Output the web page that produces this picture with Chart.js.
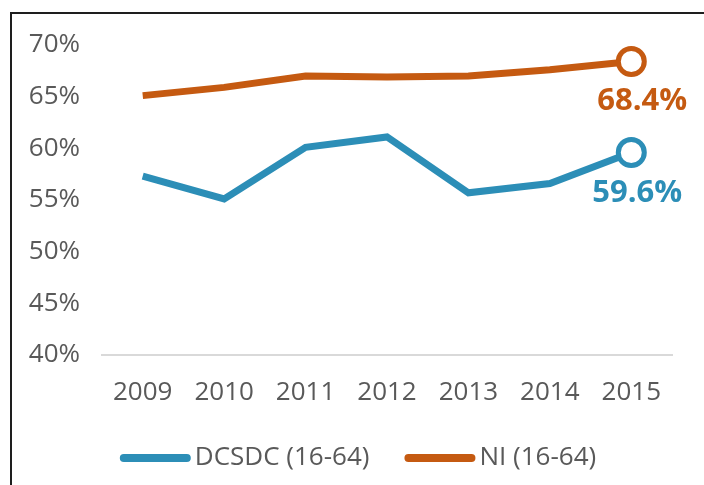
<!DOCTYPE html>
<html>
<head>
<meta charset="utf-8">
<script src="https://cdn.jsdelivr.net/npm/chart.js@4.4.0/dist/chart.umd.min.js"></script>
<style>
  html, body { margin: 0; padding: 0; background: #fff; }
  #wrap { position: relative; width: 704px; height: 485px; overflow: hidden; }
  #frame {
    position: absolute; left: 10px; top: 12px; width: 720px; height: 500px;
    border-top: 2px solid #1e1e1e; border-left: 2px solid #1e1e1e;
    pointer-events: none;
  }
</style>
</head>
<body>
<div id="wrap">
  <canvas id="chart" width="704" height="485"></canvas>
  <div id="frame"></div>
</div>
<script>
const years = ["2009", "2010", "2011", "2012", "2013", "2014", "2015"];
const dcsdc = [57.3, 55.1, 60.1, 61.1, 55.7, 56.6, 59.6];
const ni = [65.1, 65.9, 67.0, 66.9, 67.0, 67.6, 68.4];
const yTicks = [40, 45, 50, 55, 60, 65, 70];

const BLUE = "#2C8EB7";
const ORANGE = "#C55A11";
const GREY = "#595959";
const FONT = "'Open Sans', 'Liberation Sans', sans-serif";

const lastIdx = years.length - 1;

// label on the final point of each line
const endLabels = {
  id: "endLabels",
  afterDatasetsDraw(chart) {
    const ctx = chart.ctx;
    chart.data.datasets.forEach((ds, i) => {
      const pt = chart.getDatasetMeta(i).data[lastIdx];
      ctx.save();
      ctx.font = "bold 31px " + FONT;
      ctx.fillStyle = ds.borderColor;
      ctx.textAlign = "center";
      ctx.textBaseline = "middle";
      ctx.fillText(ds.data[lastIdx].toFixed(1) + "%", pt.x + ds.labelDx, pt.y + ds.labelDy);
      ctx.restore();
    });
  },
};

// legend with long line samples
const lineLegend = {
  id: "lineLegend",
  afterDraw(chart) {
    const ctx = chart.ctx;
    const sample = 71, gap = 4, between = 35;
    ctx.save();
    ctx.font = "26px " + FONT;
    const items = chart.data.datasets.map((ds) => ({
      text: ds.label, color: ds.borderColor, w: ctx.measureText(ds.label).width,
    }));
    let total = 0;
    items.forEach((it, i) => { total += sample + gap + it.w + (i ? between : 0); });
    let x = chart.width / 2 + 6 - total / 2;
    const y = 458;
    items.forEach((it) => {
      ctx.strokeStyle = it.color;
      ctx.lineWidth = 8;
      ctx.lineCap = "round";
      ctx.beginPath();
      ctx.moveTo(x + 4, y);
      ctx.lineTo(x + sample - 4, y);
      ctx.stroke();
      ctx.fillStyle = GREY;
      ctx.textBaseline = "middle";
      ctx.fillText(it.text, x + sample + gap, y);
      x += sample + gap + it.w + between;
    });
    ctx.restore();
  },
};

const pointRadius = (c) => (c.dataIndex === lastIdx ? 13 : 0);

new Chart(document.getElementById("chart"), {
  type: "line",
  data: {
    labels: years,
    datasets: [
      {
        label: "DCSDC (16-64)",
        data: dcsdc,
        borderColor: BLUE,
        borderWidth: 7,
        pointRadius: pointRadius,
        pointBorderWidth: 5,
        pointBackgroundColor: "#fff",
        pointBorderColor: BLUE,
        labelDx: 6,
        labelDy: 41,
      },
      {
        label: "NI (16-64)",
        data: ni,
        borderColor: ORANGE,
        borderWidth: 7,
        pointRadius: pointRadius,
        pointBorderWidth: 5,
        pointBackgroundColor: "#fff",
        pointBorderColor: ORANGE,
        labelDx: 11,
        labelDy: 40,
      },
    ],
  },
  options: {
    responsive: false,
    animation: false,
    tension: 0,
    layout: { padding: { top: 45, right: 32, bottom: 50, left: 0 } },
    plugins: {
      legend: { display: false },
      tooltip: { enabled: false },
    },
    scales: {
      x: {
        offset: true,
        grid: { display: false, drawTicks: false, offset: true },
        border: { display: true, color: "#D9D9D9", width: 2 },
        ticks: { color: GREY, font: { family: FONT, size: 26 }, padding: 22, maxRotation: 0 },
        afterFit: (s) => { s.height = 80; },
      },
      y: {
        min: 40,
        max: 70,
        afterBuildTicks: (s) => { s.ticks = yTicks.map((v) => ({ value: v })); },
        grid: { display: false, drawTicks: false },
        border: { display: false },
        ticks: {
          color: GREY,
          font: { family: FONT, size: 26 },
          padding: 22,
          callback: (v) => v + "%",
        },
        afterFit: (s) => { s.width = 102; },
      },
    },
  },
  plugins: [endLabels, lineLegend],
});
</script>
</body>
</html>
